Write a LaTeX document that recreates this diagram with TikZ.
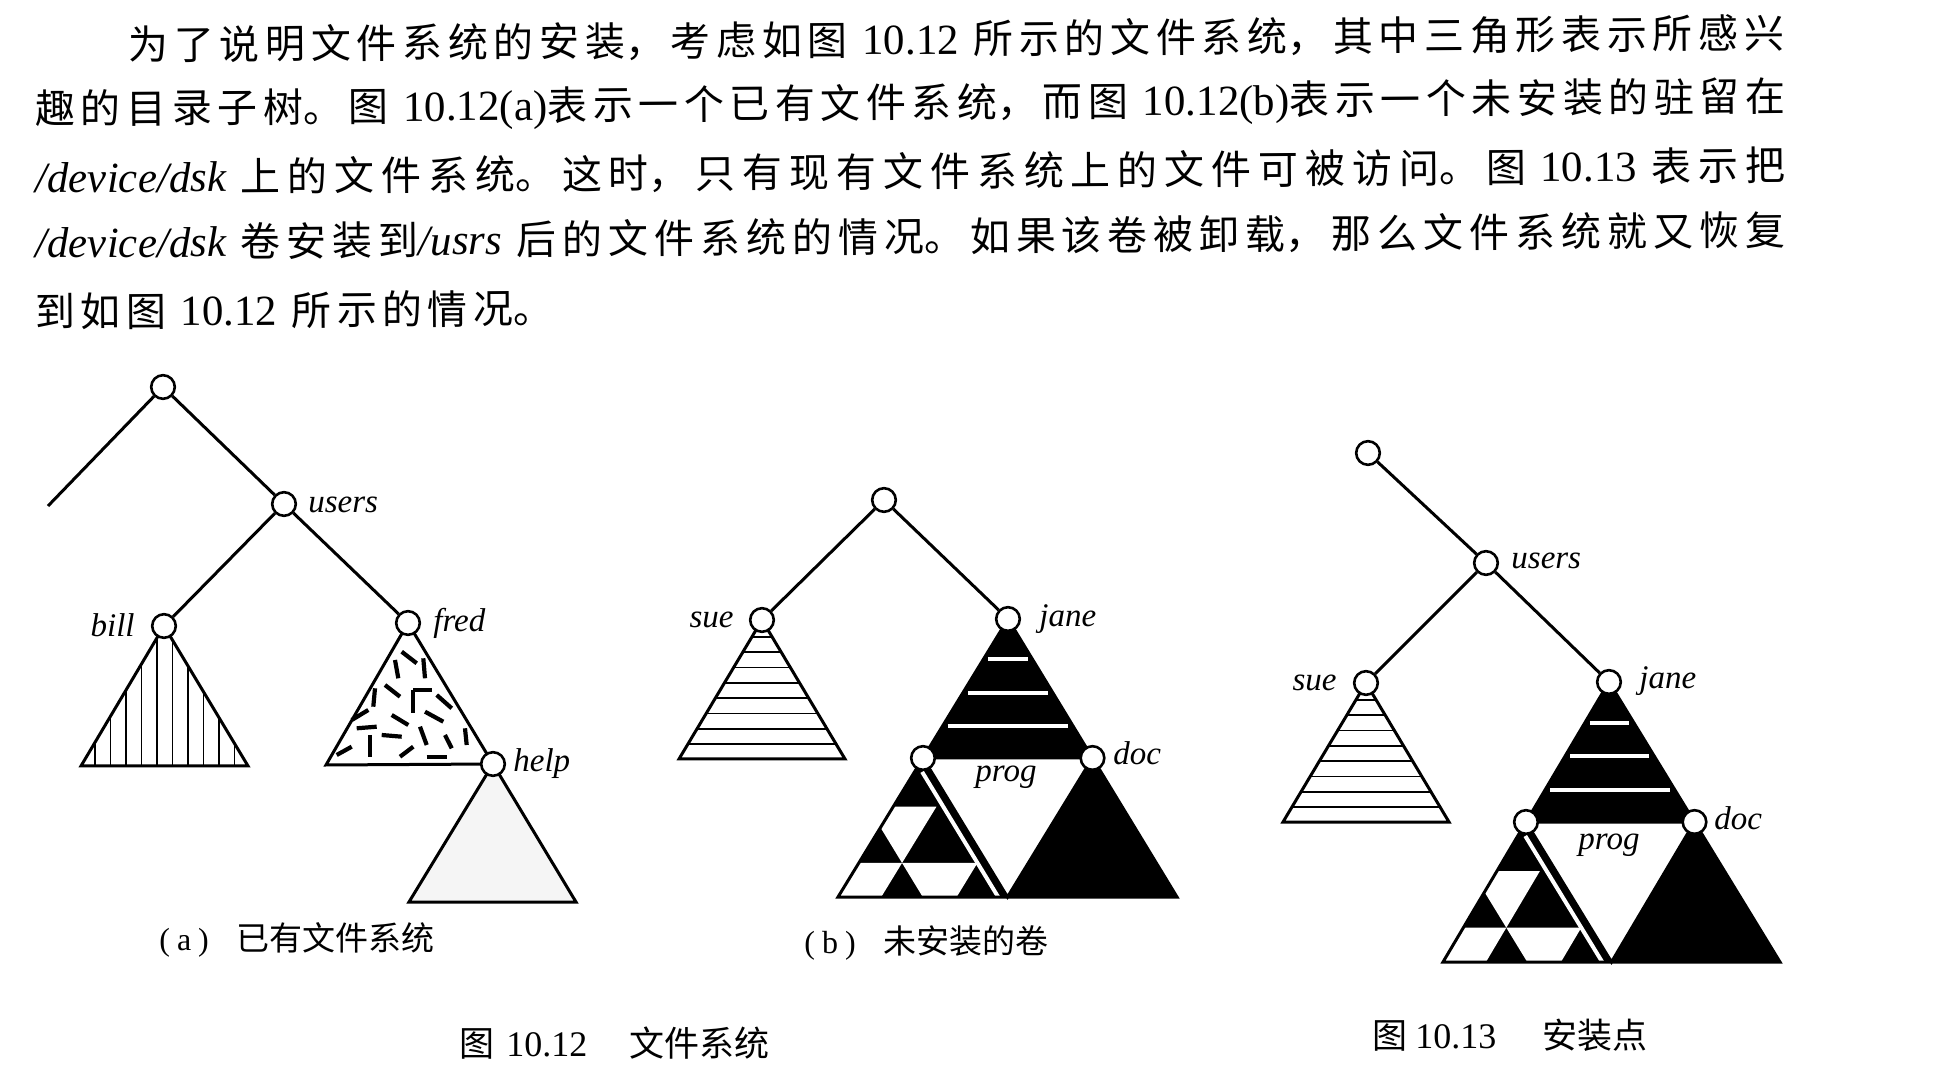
\documentclass[tikz,border=0pt]{standalone}
\usepackage{fontspec}
\setmainfont{Liberation Serif}
\newfontfamily\cjk{Noto Sans CJK SC}
\usetikzlibrary{calc}
\XeTeXlinebreakskip=0pt plus 1fil
\newcommand\Tx{\fontsize{21.5pt}{24pt}\rmfamily\upshape\XeTeXlinebreaklocale ""\relax}
\newcommand\Cx{\fontsize{20pt}{24pt}\cjk\XeTeXlinebreaklocale "zh"\relax}
\newcommand\Ti{\fontsize{21.5pt}{24pt}\rmfamily\itshape\XeTeXlinebreaklocale ""\relax}
\newcommand\jline{\noindent\parfillskip=0pt\rightskip=0pt\leftskip=0pt\parindent=0pt\relax}
\tikzset{
  vtx/.style={circle, draw, fill=white, line width=1.3pt, minimum size=11.8pt, inner sep=0pt},
  edge/.style={line width=1.5pt},
  tri/.style={line width=1.5pt, line join=miter},
  hatch/.style={line width=0.85pt},
  dashmark/.style={line width=2.1pt},
  lbl/.style={inner sep=0pt, font=\fontsize{16.5pt}{18pt}\rmfamily\itshape},
  txt/.style={inner sep=0pt, font=\Tx},
  subcap/.style={inner sep=0pt, font=\fontsize{16pt}{18pt}\rmfamily},
  figcap/.style={inner sep=0pt, font=\fontsize{18pt}{20pt}\rmfamily},
}
% sue-type triangle: horizontal hatching
\newcommand\suetri[2]{%
  \begin{scope}
    \clip (#1,#2) -- ++(-83,139) -- ++(166,0) -- cycle;
    \foreach \k in {0,...,7} \draw[hatch] (#1-90,#2+17+15.3*\k) -- ++(180,0);
  \end{scope}
  \draw[tri] (#1,#2) -- ++(-83,139) -- ++(166,0) -- cycle;}
% jane-type subtree: #1 apex, #2 base left, #3 base right, #4 prog, #5 doc, #6 base mid
\newcommand\janetree[6]{%
  \fill (#1) -- (#4) -- (#5) -- cycle;
  \foreach \f in {0.29,0.53,0.77}
    \draw[white, line width=2pt] ($(#1)!\f!(#4)+(5,0)$) -- ($(#1)!\f!(#5)+(-5,0)$);
  \coordinate (qA) at (#4); \coordinate (qB) at (#2); \coordinate (qC) at (#6);
  \fill (qA) -- (qB) -- (qC) -- cycle;
  \fill[white] (barycentric cs:qA=.65,qB=.35,qC=0) -- (barycentric cs:qA=.65,qB=.095,qC=.255)
     -- (barycentric cs:qA=.245,qB=.5,qC=.255) -- (barycentric cs:qA=.5,qB=.5,qC=0) -- cycle;
  \fill[white] (barycentric cs:qA=.245,qB=.755,qC=0) -- (barycentric cs:qA=.245,qB=.5,qC=.255)
     -- (barycentric cs:qA=0,qB=.745,qC=.255) -- (barycentric cs:qA=0,qB=1,qC=0) -- cycle;
  \fill[white] (barycentric cs:qA=.245,qB=.5,qC=.255) -- (barycentric cs:qA=.245,qB=.055,qC=.7)
     -- (barycentric cs:qA=0,qB=.3,qC=.7) -- (barycentric cs:qA=0,qB=.5,qC=.5) -- cycle;
  \draw[white, line width=2pt] (barycentric cs:qA=.9,qB=.055,qC=.045) -- (barycentric cs:qA=0,qB=.055,qC=.945);
  \fill (#5) -- (#6) -- (#3) -- cycle;
  \draw[tri] (#1) -- (#2) -- (#3) -- cycle;
  \draw[tri] (#4) -- (#5) -- (#6) -- cycle;}
\begin{document}
\begin{tikzpicture}[x=0.5pt,y=-0.5pt]
\useasboundingbox (0,0) rectangle (1934,1074);
\fill[white] (0,0) rectangle (1934,1074);

% ---------------- paragraph ----------------
\node[txt, anchor=base west, rotate=0.42, text width=828pt] (l1) at (128,60)
  {\jline\Cx 为了说明文件系统的安装，考虑如图\Tx{} 10.12 \Cx 所示的文件系统，其中三角形表示所感兴\par};
\node[txt, anchor=base west, rotate=0.42, text width=875pt] (l2) at (35,124)
  {\jline\Cx 趣的目录子树。图\Tx{} 10.12(a)\Cx 表示一个已有文件系统，而图\Tx{} 10.12(b)\Cx 表示一个未安装的驻留在\par};
\node[txt, anchor=base west, rotate=0.42, text width=875pt] (l3) at (35,193)
  {\jline\Ti /device/dsk\Tx{} \Cx 上的文件系统。这时，只有现有文件系统上的文件可被访问。图\Tx{} 10.13 \Cx 表示把\par};
\node[txt, anchor=base west, rotate=0.42, text width=875pt] (l4) at (35,258)
  {\jline\Ti /device/dsk\Tx{} \Cx 卷安装到\Ti /usrs\Tx{} \Cx 后的文件系统的情况。如果该卷被卸载，那么文件系统就又恢复\par};
\node[txt, anchor=base west, rotate=0.42, text width=259pt] (l5) at (35,327)
  {\jline\Cx 到如图\Tx{} 10.12 \Cx 所示的情况。\par};

% ---------------- (a) existing file system ----------------
\coordinate (pRa) at (163,387);
\coordinate (pUa) at (284,504);
\coordinate (pBill) at (164,626);
\coordinate (pFred) at (408,623);
\coordinate (pHelp) at (493,764);
\coordinate (aend) at (48,506);
% bill subtree
\begin{scope}
  \clip (pBill) -- (81,766) -- (248,766) -- cycle;
  \foreach \x in {95,110.5,...,235} \draw[hatch] (\x,600) -- (\x,770);
\end{scope}
\draw[tri] (pBill) -- (81,766) -- (248,766) -- cycle;
% fred subtree
\draw[tri] (pFred) -- (326,765) -- (pHelp) -- cycle;
\foreach \a/\b/\c/\d in {401.7/651.7/416.7/663.3, 423.3/658.3/425/678.3, 395/660/398.3/678.3,
   385/685/400/696.7, 375/688.3/373.3/706.7, 413.3/690/431.7/690, 413.3/690/413.3/713.3,
   436.7/695/451.7/708.3, 351.7/720/368.3/710, 391.7/715/408.3/725, 425/711.7/443.3/721.7,
   356.7/728.3/376.7/726.7, 370/735/370/756.7, 381.7/735/401.7/736.7, 420/726.7/426.7/745,
   445/735/451.7/748.3, 465/728.3/466.7/745, 336.7/755/351.7/746.7, 400/756.7/413.3/746.7,
   426.7/756.7/446.7/756.7}
  \draw[dashmark] (\a,\b) -- (\c,\d);
% help subtree
\filldraw[tri, fill=black!4] (pHelp) -- (409,902) -- (576,902) -- cycle;
% vertices
\node[vtx] (ra) at (pRa) {};
\node[vtx] (ua) at (pUa) {};
\node[vtx] (bill) at (pBill) {};
\node[vtx] (fred) at (pFred) {};
\node[vtx] (help) at (pHelp) {};
\draw[edge] (ra) -- (aend);
\draw[edge] (ra) -- (ua);
\draw[edge] (ua) -- (bill);
\draw[edge] (ua) -- (fred);
\node[lbl, anchor=base west] (tUa) at (308,513) {users};
\node[lbl, anchor=base east] (tBill) at (135,637) {bill};
\node[lbl, anchor=base west] (tFred) at (433,632) {fred};
\node[lbl, anchor=base west] (tHelp) at (513,771) {help};
\node[subcap, anchor=base west] (capa) at (159,950)
  {(\hspace{3.5pt}a\hspace{3.5pt})\hspace{14pt}{\fontsize{16.5pt}{18pt}\cjk 已有文件系统}};

% ---------------- (b) unmounted volume ----------------
\coordinate (pRb) at (884,500);
\coordinate (pSueb) at (762,620);
\coordinate (bJ) at (1008,619);
\coordinate (bBL) at (838,897);
\coordinate (bBR) at (1177,897);
\coordinate (bP) at (923,758);
\coordinate (bD) at (1092.5,758);
\coordinate (bM) at (1007.5,897);
\suetri{762}{620}
\janetree{bJ}{bBL}{bBR}{bP}{bD}{bM}
\node[vtx] (rb) at (pRb) {};
\node[vtx] (sueb) at (pSueb) {};
\node[vtx] (janeb) at (bJ) {};
\node[vtx] (progb) at (bP) {};
\node[vtx] (docb) at (bD) {};
\draw[edge] (rb) -- (sueb);
\draw[edge] (rb) -- (janeb);
\node[lbl, anchor=base east] (tSueb) at (734,628) {sue};
\node[lbl, anchor=base west] (tJaneb) at (1039,627) {jane};
\node[lbl, anchor=base west] (tDocb) at (1113,765) {doc};
\node[lbl, anchor=base west] (tProgb) at (975,782) {prog};
\node[subcap, anchor=base west] (capb) at (804,953)
  {(\hspace{3.5pt}b\hspace{3.5pt})\hspace{14pt}{\fontsize{16.5pt}{18pt}\cjk 未安装的卷}};

% ---------------- Fig 10.13 mount point ----------------
\coordinate (pRc) at (1368,453);
\coordinate (pUc) at (1486,563);
\coordinate (pSuec) at (1366,683);
\coordinate (cJ) at (1609,682);
\coordinate (cBL) at (1443,962);
\coordinate (cBR) at (1780,962);
\coordinate (cP) at (1526,822);
\coordinate (cD) at (1694.5,822);
\coordinate (cM) at (1611.5,962);
\suetri{1366}{683}
\janetree{cJ}{cBL}{cBR}{cP}{cD}{cM}
\node[vtx] (rc) at (pRc) {};
\node[vtx] (uc) at (pUc) {};
\node[vtx] (suec) at (pSuec) {};
\node[vtx] (janec) at (cJ) {};
\node[vtx] (progc) at (cP) {};
\node[vtx] (docc) at (cD) {};
\draw[edge] (rc) -- (uc);
\draw[edge] (uc) -- (suec);
\draw[edge] (uc) -- (janec);
\node[lbl, anchor=base west] (tUc) at (1511,569) {users};
\node[lbl, anchor=base east] (tSuec) at (1337,691) {sue};
\node[lbl, anchor=base west] (tJanec) at (1639,689) {jane};
\node[lbl, anchor=base west] (tDocc) at (1714,829) {doc};
\node[lbl, anchor=base west] (tProgc) at (1578,849) {prog};

% ---------------- figure captions ----------------
\node[figcap, anchor=base west] (cap1) at (459,1056)
  {{\fontsize{17.5pt}{20pt}\cjk 图}\hspace{6pt}10.12\hspace{21pt}{\fontsize{17.5pt}{20pt}\cjk 文件系统}};
\node[figcap, anchor=base west] (cap2) at (1372,1048)
  {{\fontsize{17.5pt}{20pt}\cjk 图}\hspace{4pt}10.13\hspace{23pt}{\fontsize{17.5pt}{20pt}\cjk 安装点}};
\end{tikzpicture}
\end{document}
